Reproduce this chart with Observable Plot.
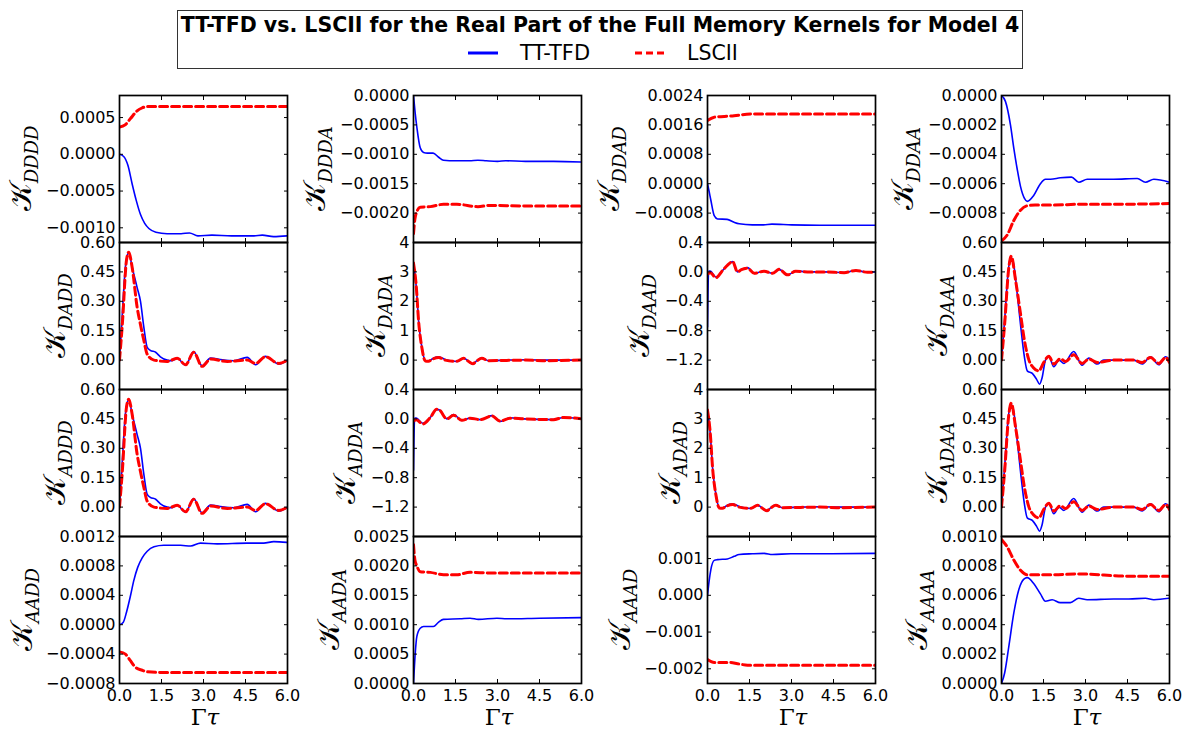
<!DOCTYPE html>
<html><head><meta charset="utf-8">
<script src="https://cdn.jsdelivr.net/npm/d3@7"></script>
<script src="https://cdn.jsdelivr.net/npm/@observablehq/plot@0.6"></script>
<style>
body{margin:0;background:#fff;}
#root{position:relative;width:1182px;height:736px;overflow:hidden;background:#fff;font-family:"DejaVu Sans",sans-serif;}
.panel{position:absolute;}
#titlebox{position:absolute;left:177px;top:10px;width:844px;height:57px;border:1px solid #333;background:#fff;box-sizing:content-box;}
#legend{position:absolute;left:0;top:0;}
</style>
</head><body>
<div id="root">
  <div id="titlebox"></div>
  <svg id="legend" width="1182" height="80">
    <text x="600" y="32" text-anchor="middle" font-family="DejaVu Sans" font-weight="bold" font-size="20.5">TT-TFD vs. LSCII for the Real Part of the Full Memory Kernels for Model 4</text>
    <line x1="468" x2="498" y1="53" y2="53" stroke="#0000ff" stroke-width="3"/>
    <text x="520" y="53" dominant-baseline="central" font-family="DejaVu Sans" font-size="21">TT-TFD</text>
    <line x1="635" x2="665" y1="53" y2="53" stroke="#ff0000" stroke-width="3" stroke-dasharray="7,4"/>
    <text x="687" y="53" dominant-baseline="central" font-family="DejaVu Sans" font-size="20.5">LSCII</text>
  </svg>
</div>
<script>
// ---- data ----
const seriesNames = ["TT-TFD", "LSCII"];
const xTicks = [0, 1.5, 3, 4.5, 6];

// Row 1
const dddd_tt = [[0,0],[0.15,-0.00003],[0.3,-0.00015],[0.45,-0.0004],[0.6,-0.00063],[0.75,-0.00082],[0.9,-0.00094],[1.05,-0.00101],[1.3,-0.00106],[1.7,-0.00108],[2.2,-0.00108],[2.5,-0.00107],[2.8,-0.00111],[3.3,-0.0011],[4.0,-0.00111],[4.8,-0.00111],[5.1,-0.0011],[5.5,-0.00112],[6,-0.00111]];
const dddd_ls = [[0,0.00037],[0.2,0.0004],[0.4,0.00049],[0.6,0.00058],[0.8,0.00063],[1.0,0.00065],[1.5,0.00065],[3,0.00065],[6,0.00065]];
const ddda_tt = [[0,0],[0.06,-0.0003],[0.12,-0.00054],[0.24,-0.00089],[0.36,-0.00097],[0.5,-0.00098],[0.7,-0.00098],[0.9,-0.00105],[1.07,-0.0011],[1.5,-0.00111],[2.0,-0.00111],[2.3,-0.0011],[2.6,-0.00111],[3.0,-0.00112],[3.3,-0.00111],[4,-0.00112],[5,-0.00112],[6,-0.00113]];
const ddda_ls = [[0,-0.00235],[0.05,-0.0021],[0.1,-0.002],[0.24,-0.0019],[0.6,-0.00189],[1.07,-0.00185],[1.55,-0.00185],[2.3,-0.00189],[2.7,-0.00187],[4,-0.00188],[6,-0.00188]];
const ddad_tt = [[0,0],[0.06,-0.00022],[0.12,-0.00045],[0.24,-0.00087],[0.36,-0.00096],[0.7,-0.00097],[0.95,-0.00105],[1.13,-0.00109],[1.6,-0.00112],[2.0,-0.00112],[2.3,-0.0011],[3.0,-0.00112],[4,-0.00113],[6,-0.00113]];
const ddad_ls = [[0,0.00172],[0.24,0.00181],[0.6,0.00183],[0.95,0.00185],[1.4,0.00189],[1.8,0.0019],[3,0.0019],[6,0.0019]];
const ddaa_tt = [[0,0],[0.14,-0.00004],[0.32,-0.0002],[0.44,-0.00036],[0.56,-0.0005],[0.68,-0.00062],[0.82,-0.0007],[0.92,-0.00072],[1.15,-0.00068],[1.39,-0.0006],[1.57,-0.00057],[1.75,-0.00057],[2.1,-0.00056],[2.5,-0.000555],[2.76,-0.00059],[3.06,-0.00057],[4,-0.00057],[4.85,-0.000565],[5.14,-0.00059],[5.44,-0.00057],[6,-0.00059]];
const ddaa_ls = [[0,-0.00099],[0.2,-0.00095],[0.44,-0.00085],[0.68,-0.00078],[0.92,-0.00075],[1.2,-0.000745],[1.9,-0.000745],[2.8,-0.00074],[4,-0.00074],[6,-0.000735]];

// Row 2
const dadd_tt = [[0,0],[0.1,0.235],[0.21,0.475],[0.33,0.55],[0.45,0.475],[0.63,0.37],[0.75,0.3],[0.87,0.167],[0.99,0.065],[1.1,0.05],[1.29,0.04],[1.46,0.017],[1.7,0],[1.88,-0.003],[2.06,0.01],[2.36,-0.026],[2.65,0.044],[2.95,-0.029],[3.25,0.01],[3.6,0.003],[4.08,-0.003],[4.56,0.014],[4.86,-0.024],[5.21,0.019],[5.69,-0.02],[6,0]];
const dadd_ls = [[0,0],[0.1,0.18],[0.25,0.51],[0.33,0.55],[0.45,0.475],[0.63,0.27],[0.75,0.18],[0.87,0.1],[0.99,0.03],[1.23,0],[1.7,-0.007],[2.06,0.01],[2.36,-0.024],[2.65,0.04],[2.95,-0.032],[3.25,0.005],[3.85,-0.007],[4.56,0],[4.86,-0.017],[5.21,0.017],[5.69,-0.017],[6,0]];
const dada_tt = [[0,3.3],[0.1,2.48],[0.18,1.34],[0.3,0.43],[0.42,-0.02],[0.54,-0.04],[0.65,0.03],[0.9,0.11],[1.13,0.02],[1.55,-0.05],[1.79,0.07],[1.96,-0.04],[2.12,-0.14],[2.26,-0.02],[2.44,0.07],[2.68,-0.02],[3.33,0],[4,0.01],[5,0],[6,0]];
const dada_ls = [[0,3.3],[0.1,2.5],[0.18,1.35],[0.3,0.42],[0.42,-0.03],[0.54,-0.04],[0.65,0.02],[0.9,0.09],[1.13,0],[1.55,-0.04],[1.79,0.06],[1.96,-0.04],[2.12,-0.12],[2.26,-0.03],[2.44,0.06],[2.68,-0.02],[3.33,-0.01],[4,0],[4.6,-0.02],[6,0]];
const daad_tt = [[0,-0.75],[0.04,0.01],[0.1,0.01],[0.3,-0.07],[0.54,0.02],[0.71,0.09],[0.9,0.14],[1.07,0],[1.21,0.03],[1.43,0.06],[1.67,-0.02],[2.02,0.01],[2.32,-0.02],[2.56,0.035],[2.86,-0.045],[3.15,0.015],[3.57,0],[4.17,0],[4.88,-0.01],[5.3,0.02],[5.71,-0.005],[6,0]];
const daad_ls = [[0,-0.03],[0.1,-0.01],[0.3,-0.08],[0.54,0.02],[0.71,0.09],[0.9,0.14],[1.07,0],[1.21,0.03],[1.43,0.05],[1.67,-0.02],[2.02,0.01],[2.32,-0.02],[2.56,0.035],[2.86,-0.04],[3.15,0.01],[3.57,0],[4.17,0],[4.88,-0.01],[5.3,0.02],[5.71,-0.005],[6,0]];
const daaa_tt = [[0,0],[0.11,0.2],[0.23,0.44],[0.32,0.525],[0.42,0.5],[0.56,0.34],[0.68,0.18],[0.82,0.014],[0.92,-0.055],[1.1,-0.068],[1.25,-0.097],[1.36,-0.123],[1.45,-0.09],[1.57,0],[1.69,0.02],[1.87,-0.034],[2.05,0],[2.23,-0.017],[2.58,0.044],[2.88,-0.026],[3.12,0.01],[3.42,-0.02],[3.65,0],[4.01,0],[4.73,0],[5.02,-0.02],[5.32,0.017],[5.62,-0.024],[5.86,0.017],[6,0.005]];
const daaa_ls = [[0,0],[0.11,0.18],[0.26,0.47],[0.35,0.53],[0.5,0.41],[0.68,0.235],[0.82,0.1],[0.98,0],[1.15,-0.04],[1.33,-0.055],[1.51,-0.012],[1.69,0.02],[1.87,-0.02],[2.1,0.007],[2.29,-0.007],[2.58,0.027],[2.88,-0.017],[3.12,0.005],[3.42,-0.012],[4.01,0],[4.73,0],[5.02,-0.012],[5.32,0.013],[5.62,-0.017],[5.86,0.013],[6,-0.012]];

// Row 3
const addd_tt = [[0,0],[0.1,0.235],[0.21,0.475],[0.33,0.55],[0.45,0.475],[0.63,0.37],[0.75,0.3],[0.87,0.167],[0.99,0.065],[1.1,0.05],[1.29,0.04],[1.46,0.017],[1.7,0],[1.88,-0.003],[2.06,0.01],[2.36,-0.026],[2.65,0.044],[2.95,-0.029],[3.25,0.01],[3.6,0.003],[4.08,-0.003],[4.56,0.014],[4.86,-0.024],[5.21,0.019],[5.69,-0.02],[6,0]];
const addd_ls = [[0,0],[0.1,0.18],[0.25,0.51],[0.33,0.55],[0.45,0.475],[0.63,0.27],[0.75,0.18],[0.87,0.1],[0.99,0.03],[1.23,0],[1.7,-0.007],[2.06,0.01],[2.36,-0.024],[2.65,0.04],[2.95,-0.032],[3.25,0.005],[3.85,-0.007],[4.56,0],[4.86,-0.017],[5.21,0.017],[5.69,-0.017],[6,0]];
const adda_tt = [[0,-0.7],[0.04,0.01],[0.1,0.01],[0.33,-0.06],[0.6,0.02],[0.83,0.13],[0.93,0.12],[1.19,0],[1.43,0.06],[1.73,-0.02],[2.02,0.01],[2.38,-0.01],[2.8,0.045],[3.1,-0.036],[3.45,0.015],[3.93,0],[5,-0.01],[5.36,0.02],[6,0]];
const adda_ls = [[0,-0.03],[0.1,-0.01],[0.33,-0.07],[0.6,0.02],[0.83,0.13],[0.93,0.12],[1.19,0],[1.43,0.05],[1.73,-0.02],[2.02,0.01],[2.38,-0.01],[2.8,0.04],[3.1,-0.03],[3.45,0.01],[3.93,0],[5,-0.01],[5.36,0.02],[6,0]];
const adad_tt = [[0,3.3],[0.1,2.48],[0.18,1.34],[0.3,0.43],[0.42,-0.02],[0.54,-0.04],[0.65,0.03],[0.9,0.11],[1.13,0.02],[1.55,-0.05],[1.79,0.07],[1.96,-0.04],[2.12,-0.14],[2.26,-0.02],[2.44,0.07],[2.68,-0.02],[3.33,0],[4,0.01],[5,0],[6,0]];
const adad_ls = [[0,3.3],[0.1,2.5],[0.18,1.35],[0.3,0.42],[0.42,-0.03],[0.54,-0.04],[0.65,0.02],[0.9,0.09],[1.13,0],[1.55,-0.04],[1.79,0.06],[1.96,-0.04],[2.12,-0.12],[2.26,-0.03],[2.44,0.06],[2.68,-0.02],[3.33,-0.01],[4,0],[4.6,-0.02],[6,0]];
const adaa_tt = [[0,0],[0.11,0.2],[0.23,0.44],[0.32,0.525],[0.42,0.5],[0.56,0.34],[0.68,0.18],[0.82,0.014],[0.92,-0.055],[1.1,-0.068],[1.25,-0.097],[1.36,-0.123],[1.45,-0.09],[1.57,0],[1.69,0.02],[1.87,-0.034],[2.05,0],[2.23,-0.017],[2.58,0.044],[2.88,-0.026],[3.12,0.01],[3.42,-0.02],[3.65,0],[4.01,0],[4.73,0],[5.02,-0.02],[5.32,0.017],[5.62,-0.024],[5.86,0.017],[6,0.005]];
const adaa_ls = [[0,0],[0.11,0.18],[0.26,0.47],[0.35,0.53],[0.5,0.41],[0.68,0.235],[0.82,0.1],[0.98,0],[1.15,-0.04],[1.33,-0.055],[1.51,-0.012],[1.69,0.02],[1.87,-0.02],[2.1,0.007],[2.29,-0.007],[2.58,0.027],[2.88,-0.017],[3.12,0.005],[3.42,-0.012],[4.01,0],[4.73,0],[5.02,-0.012],[5.32,0.013],[5.62,-0.017],[5.86,0.013],[6,-0.012]];

// Row 4
const aadd_tt = [[0,0],[0.13,0.00003],[0.25,0.00017],[0.39,0.00039],[0.51,0.0006],[0.65,0.00078],[0.81,0.00091],[0.99,0.001],[1.23,0.00106],[1.58,0.00108],[2.18,0.00108],[2.54,0.00107],[2.89,0.00111],[3.49,0.0011],[4.56,0.00111],[5.15,0.00111],[5.51,0.00113],[6,0.00112]];
const aadd_ls = [[0,-0.00037],[0.21,-0.0004],[0.39,-0.00049],[0.57,-0.00058],[0.81,-0.00062],[0.99,-0.00064],[1.5,-0.00065],[3,-0.00065],[6,-0.00065]];
const aada_tt = [[0,0],[0.06,0.0005],[0.12,0.0008],[0.24,0.00094],[0.36,0.00097],[0.71,0.00097],[0.89,0.00104],[1.07,0.00109],[1.67,0.0011],[2.02,0.00111],[2.32,0.00109],[2.98,0.00111],[3.33,0.0011],[4.5,0.00111],[6,0.00112]];
const aada_ls = [[0,0.00236],[0.05,0.0021],[0.12,0.002],[0.24,0.0019],[0.6,0.00189],[1.07,0.00185],[1.55,0.00185],[2.02,0.00189],[2.74,0.00188],[6,0.00188]];
const aaad_tt = [[0,0],[0.06,0.0004],[0.12,0.0007],[0.24,0.00095],[0.36,0.00097],[0.71,0.00099],[0.95,0.00106],[1.13,0.00111],[1.6,0.00113],[2.02,0.00114],[2.32,0.00111],[2.98,0.00113],[4,0.00113],[6,0.00114]];
const aaad_ls = [[0,-0.00175],[0.24,-0.00183],[0.83,-0.00183],[1.07,-0.00186],[1.43,-0.0019],[3,-0.0019],[6,-0.0019]];
const aaaa_tt = [[0,0],[0.11,0.00007],[0.26,0.00025],[0.44,0.00048],[0.62,0.00064],[0.8,0.00071],[0.92,0.00072],[1.15,0.00068],[1.39,0.00061],[1.57,0.00056],[1.81,0.00057],[2.1,0.00055],[2.46,0.00055],[2.76,0.00058],[3.06,0.00057],[4.01,0.000575],[4.55,0.000575],[5.14,0.00058],[5.44,0.00057],[6,0.00058]];
const aaaa_ls = [[0,0.00098],[0.2,0.00093],[0.44,0.00084],[0.68,0.00077],[0.92,0.00074],[1.27,0.00074],[1.87,0.00074],[2.82,0.000745],[4.5,0.00073],[6,0.00073]];

// y domains and tick labels per panel
const domA = [-0.0012, 0.0008], ticksA = [0.0005, 0, -0.0005, -0.001];
const domB = [-0.0025, 0], ticksB = [0, -0.0005, -0.001, -0.0015, -0.002];
const domC = [-0.0016, 0.0024], ticksC = [0.0024, 0.0016, 0.0008, 0, -0.0008];
const domD = [-0.001, 0], ticksD = [0, -0.0002, -0.0004, -0.0006, -0.0008];
const domE = [-0.15, 0.6], ticksE = [0.6, 0.45, 0.3, 0.15, 0];
const domF = [-1, 4], ticksF = [4, 3, 2, 1, 0];
const domG = [-1.6, 0.4], ticksG = [0.4, 0, -0.4, -0.8, -1.2];
const domH = [-0.0008, 0.0012], ticksH = [0.0012, 0.0008, 0.0004, 0, -0.0004, -0.0008];
const domI = [0, 0.0025], ticksI = [0.0025, 0.002, 0.0015, 0.001, 0.0005, 0];
const domJ = [-0.0024, 0.0016], ticksJ = [0.001, 0, -0.001, -0.002];
const domK = [0, 0.001], ticksK = [0.001, 0.0008, 0.0006, 0.0004, 0.0002, 0];

const subscripts = ["DDDD","DDDA","DDAD","DDAA","DADD","DADA","DAAD","DAAA","ADDD","ADDA","ADAD","ADAA","AADD","AADA","AAAD","AAAA"];
const ttSeries = [dddd_tt,ddda_tt,ddad_tt,ddaa_tt,dadd_tt,dada_tt,daad_tt,daaa_tt,addd_tt,adda_tt,adad_tt,adaa_tt,aadd_tt,aada_tt,aaad_tt,aaaa_tt];
const lsSeries = [dddd_ls,ddda_ls,ddad_ls,ddaa_ls,dadd_ls,dada_ls,daad_ls,daaa_ls,addd_ls,adda_ls,adad_ls,adaa_ls,aadd_ls,aada_ls,aaad_ls,aaaa_ls];
const domains = [domA,domB,domC,domD,domE,domF,domG,domE,domE,domG,domF,domE,domH,domI,domJ,domK];
const tickSets = [ticksA,ticksB,ticksC,ticksD,ticksE,ticksF,ticksG,ticksE,ticksE,ticksG,ticksF,ticksE,ticksH,ticksI,ticksJ,ticksK];
const formats = [".4f",".4f",".4f",".4f",".2f","d",".1f",".2f",".2f",".1f","d",".2f",".4f",".4f",".3f",".4f"];

// ---- layout ----
const colX = [119, 413, 707, 1001], rowY = [95, 242, 389, 536];
const PW = 168, PH = 147, ML = 110, MR = 10, MT = 12;
const labelOffset = [88,88,88,88, 54,28,58,54, 54,58,27,54, 87,74,77,74];
const blank = () => "";

const root = document.getElementById("root");
subscripts.forEach((sub, i) => {
  const r = Math.floor(i / 4), c = i % 4;
  const last = r === 3;
  const MB = last ? 60 : 12;
  const fmt = d3.format(formats[i]);
  const marks = [
    Plot.line(ttSeries[i], {x: d => d[0], y: d => d[1], stroke: "#0000ff", strokeWidth: 1.6, curve: "monotone-x", clip: true}),
    Plot.line(lsSeries[i], {x: d => d[0], y: d => d[1], stroke: "#ff0000", strokeWidth: 3, strokeDasharray: "8,4", curve: "monotone-x", clip: true}),
    Plot.axisY(tickSets[i], {anchor: "left", tickSize: 0, tickPadding: 4, tickFormat: fmt, label: null}),
    Plot.axisY(tickSets[i], {anchor: "left", tickSize: -4, tickPadding: 0, tickFormat: blank, label: null}),
    Plot.axisY(tickSets[i], {anchor: "right", tickSize: -4, tickPadding: 0, tickFormat: blank, label: null}),
    Plot.axisX(xTicks, {anchor: "bottom", tickSize: -4, tickPadding: 0, tickFormat: blank, label: null}),
    Plot.axisX(xTicks, {anchor: "top", tickSize: -4, tickPadding: 0, tickFormat: blank, label: null}),
    Plot.frame({stroke: "black", strokeWidth: 1.7})
  ];
  if (last) marks.push(Plot.axisX(xTicks, {anchor: "bottom", tickSize: 0, tickPadding: 6, tickFormat: d3.format(".1f"), label: null}));
  const fig = Plot.plot({
    width: ML + PW + MR, height: MT + PH + MB,
    marginLeft: ML, marginRight: MR, marginTop: MT, marginBottom: MB,
    style: {background: "transparent", overflow: "visible", fontFamily: "DejaVu Sans", fontSize: "16px", color: "black"},
    x: {domain: [0, 6]},
    y: {domain: domains[i]},
    marks
  });
  const svg = d3.select(fig);
  const t = svg.append("text")
    .attr("transform", `translate(${ML - labelOffset[i]},${MT + PH / 2}) rotate(-90)`)
    .attr("text-anchor", "middle").attr("fill", "black");
  t.append("tspan").attr("font-family", "DejaVu Serif").attr("font-size", 30).text("\u{1D4A6}");
  t.append("tspan").attr("font-family", "DejaVu Serif").attr("font-style", "italic").attr("font-size", 18).attr("dy", 7).text(sub);
  if (last) {
    const g = svg.append("text").attr("x", ML + PW / 2 + 2).attr("y", MT + PH + 42)
      .attr("text-anchor", "middle").attr("font-family", "DejaVu Serif").attr("font-size", 23).attr("fill", "black");
    g.append("tspan").text("Γ");
    g.append("tspan").attr("font-style", "italic").text("τ");
  }
  const wrap = document.createElement("div");
  wrap.className = "panel";
  wrap.style.left = (colX[c] - ML) + "px";
  wrap.style.top = (rowY[r] - MT) + "px";
  wrap.appendChild(fig);
  root.appendChild(wrap);
});
</script>
</body></html>
